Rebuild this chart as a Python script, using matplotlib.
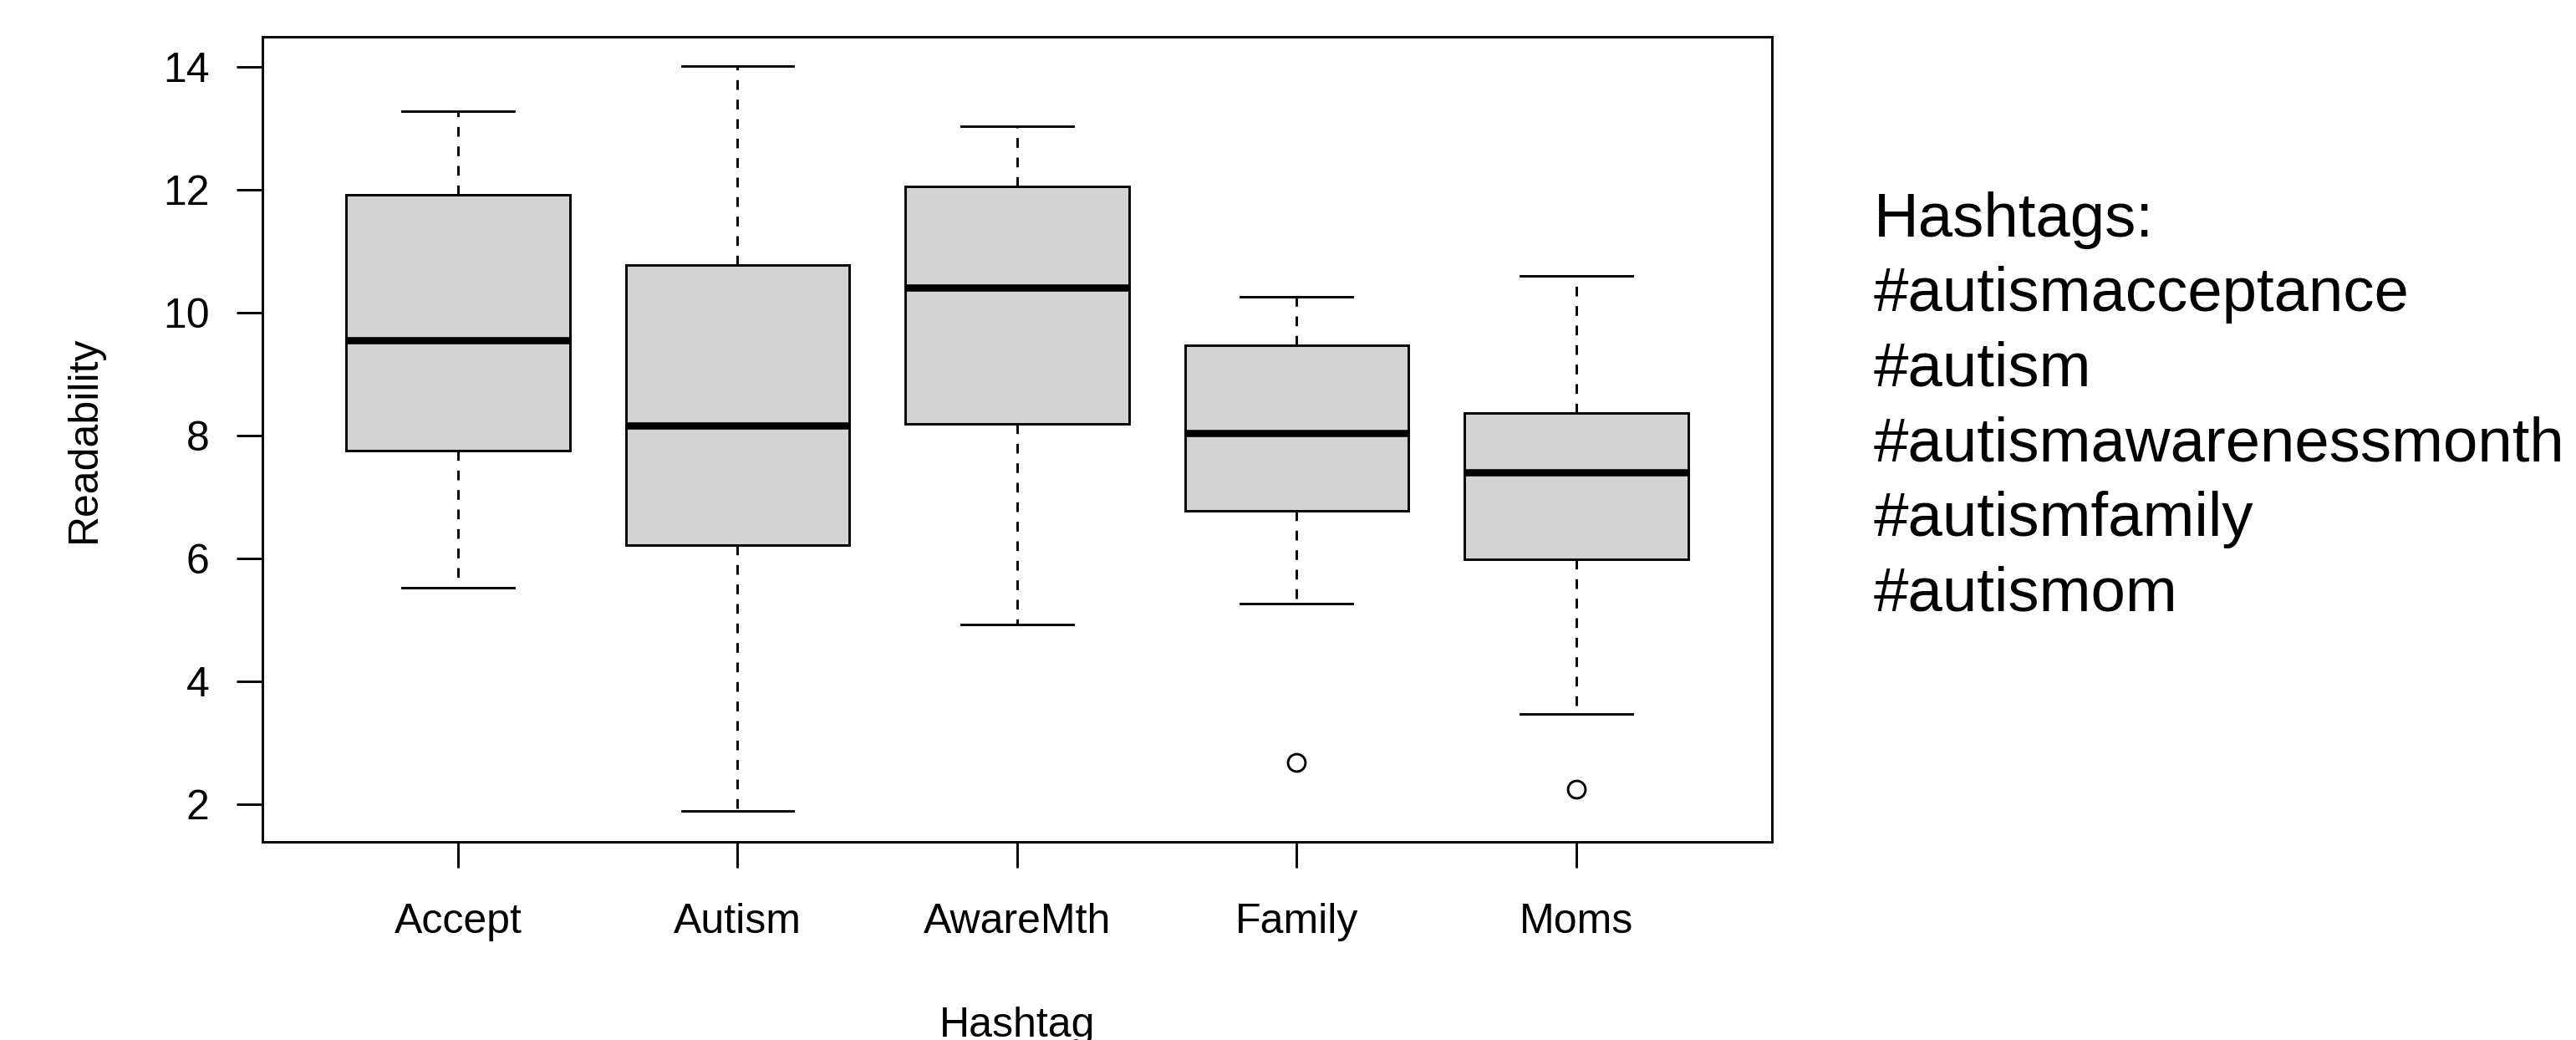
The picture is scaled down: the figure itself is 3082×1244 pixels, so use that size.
import matplotlib
matplotlib.use("Agg")
import matplotlib.pyplot as plt

plt.rcParams['font.family'] = ['Liberation Sans', 'DejaVu Sans']

# values
labels = ["Accept", "Autism", "AwareMth", "Family", "Moms"]
whislo = [5.53, 1.89, 4.93, 5.27, 3.48]
q1 = [7.76, 6.22, 8.19, 6.78, 5.99]
med = [9.55, 8.17, 10.41, 8.04, 7.41]
q3 = [11.93, 10.78, 12.06, 9.48, 8.37]
whishi = [13.29, 14.02, 13.04, 10.26, 10.60]
fliers = [[], [], [], [2.68], [2.25]]

legend_lines = ["Hashtags:", "#autismacceptance", "#autism",
                "#autismawarenessmonth", "#autismfamily", "#autismom"]

W, H = 3082, 1244
fig = plt.figure(figsize=(W / 100, H / 100), dpi=100)
ax = fig.add_axes([313.8 / W, (H - 1007) / H, (2120 - 313.8) / W, (1007 - 44) / H])

stats = []
for i in range(len(labels)):
    stats.append(dict(label=labels[i], whislo=whislo[i], q1=q1[i], med=med[i],
                      q3=q3[i], whishi=whishi[i], fliers=fliers[i]))

lw = 2.1
ax.bxp(stats, positions=range(1, len(labels) + 1), widths=0.8, capwidths=0.4,
       patch_artist=True,
       boxprops=dict(facecolor='#D3D3D3', edgecolor='black', linewidth=lw),
       medianprops=dict(color='black', linewidth=6.2, solid_capstyle='butt'),
       whiskerprops=dict(color='black', linewidth=lw, linestyle=(0, (4, 4))),
       capprops=dict(color='black', linewidth=lw),
       flierprops=dict(marker='o', markerfacecolor='none', markeredgecolor='black',
                       markersize=15, markeredgewidth=lw))

ax.set_xlim(0.3, 5.7)
ax.set_ylim(1.393, 14.495)
ax.set_yticks([2, 4, 6, 8, 10, 12, 14])
ax.set_xticks(range(1, len(labels) + 1))
ax.set_xticklabels(labels)

for s in ax.spines.values():
    s.set_linewidth(lw)
ax.tick_params(axis='both', length=22.5, width=lw, labelsize=36)
ax.tick_params(axis='x', pad=30)
ax.tick_params(axis='y', pad=23)

ax.set_xlabel("Hashtag", fontsize=36)
ax.set_ylabel("Readability", fontsize=36)
ax.xaxis.set_label_coords(0.5, -(1204 - 1007) / (1007 - 44))
ax.yaxis.set_label_coords(-(313.8 - 124) / (2120 - 313.8), 0.5)

# text block on the right, one line every ~89.6 px
for k, line in enumerate(legend_lines):
    y_px = 282.5 + k * 89.6
    fig.text(2242 / W, 1 - y_px / H, line, fontsize=53.6, ha='left', va='baseline')

fig.savefig("out.png", dpi=100)
